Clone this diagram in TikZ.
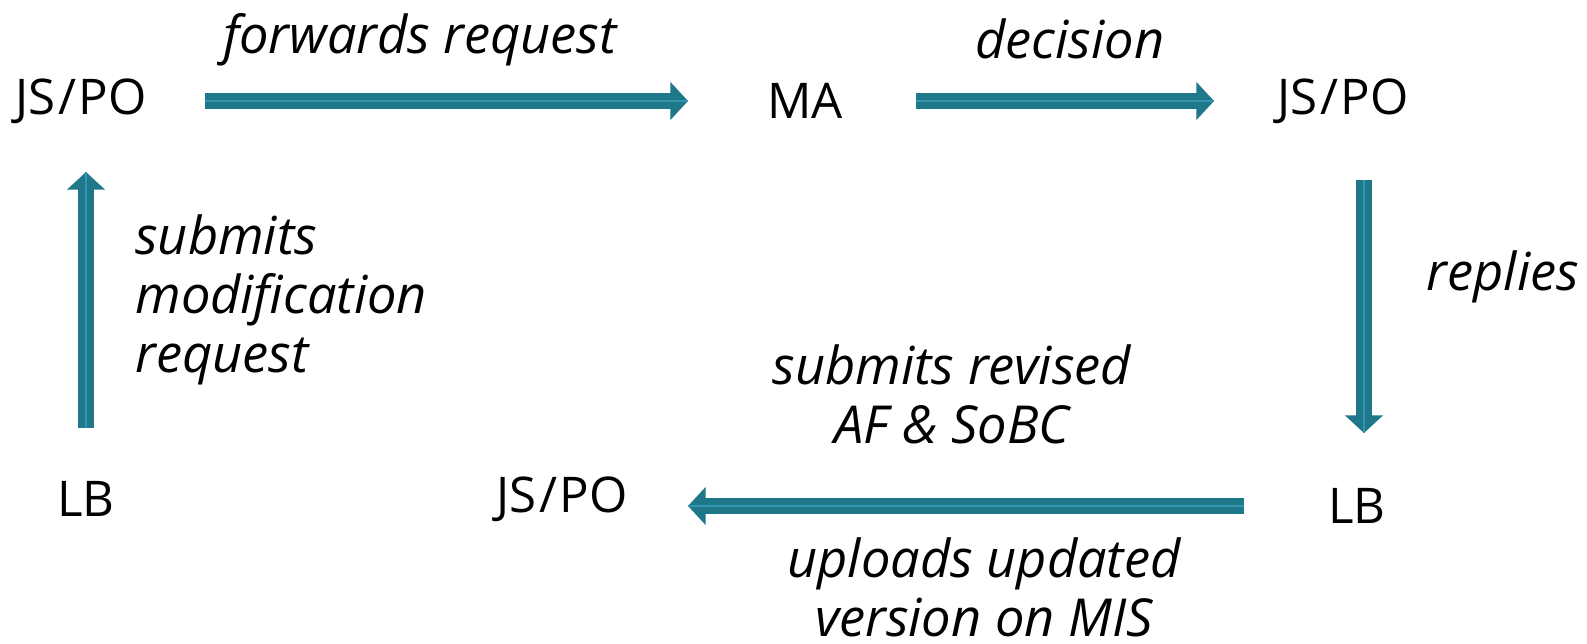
\documentclass[tikz,border=0pt]{standalone}
\usepackage{fontspec}
\setmainfont{Open Sans}
\usetikzlibrary{arrows.meta,calc}
\definecolor{flowteal}{RGB}{31,119,138}
\definecolor{flowlight}{RGB}{50,150,176}
\newcommand{\jspo}{JS\kern1.5pt/\kern1.5pt PO}

\begin{document}
\begin{tikzpicture}[x=0.02cm,y=-0.02cm,
  every node/.style={font=\fontsize{28}{33.6}\selectfont,inner sep=0pt},
  lbl/.style={font=\fontsize{29.8}{33.4}\selectfont\itshape},
  flow/.style={flowteal,line width=9.4pt,-{Triangle[width=21pt,length=10pt]},
    postaction={draw=flowlight,line width=0.9pt,-}}]
\useasboundingbox (0,0) rectangle (1587,643);
% actors
\node (js1) at (81,101) {\jspo};
\node (ma) at (805,101) {MA};
\node (js2) at (1343,101) {\jspo};
\node (lb1) at (86,499) {LB};
\node (js3) at (562,499) {\jspo};
\node (lb2) at (1357,506) {LB};
\coordinate (rtop) at ($(js2.center)+(21,0)$);
% arrows
\draw[flow,shorten <=2.48cm,shorten >=2.34cm] (js1.center) -- (ma.center);
\draw[flow,shorten <=2.22cm,shorten >=2.58cm] (ma.center) -- (js2.center);
\draw[flow,shorten <=1.58cm,shorten >=1.46cm] (rtop) -- (rtop |- lb2.center);
\draw[flow,shorten <=2.26cm,shorten >=2.52cm] (lb2.center) -- (lb2.center -| js3.center);
\draw[flow,shorten <=1.42cm,shorten >=1.42cm] (lb1.center) -- (lb1.center |- js1.center);
% labels
\node[lbl,anchor=base] (fwd) at (420,53) {forwards request};
\node[lbl,anchor=base] (dec) at (1070,58) {decision};
\node[lbl,anchor=base] (rep) at (1503,290) {replies};
\node[lbl,anchor=base west,align=left] (sub) at (135,372) {submits\\modification\\request};
\node[lbl,anchor=base,align=center] (rev) at (952,443) {submits revised\\AF \& SoBC};
\node[lbl,anchor=base,align=center] (upl) at (984,636) {uploads updated\\version on MIS};
\end{tikzpicture}
\end{document}
